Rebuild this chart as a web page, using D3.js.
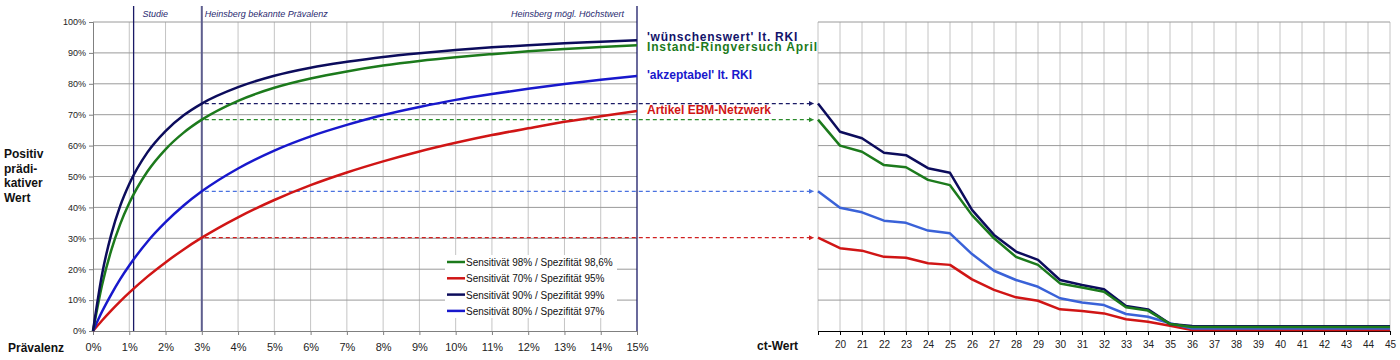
<!DOCTYPE html>
<html>
<head>
<meta charset="utf-8">
<script src="https://cdn.jsdelivr.net/npm/d3@7"></script>
<style>
  body { margin: 0; background: #fff; }
  svg { font-family: Arial, "Liberation Sans", sans-serif; }
</style>
</head>
<body>
<div id="chart"></div>
<script>
// ---- data ----
const prevalence = [0, 0.25, 0.5, 0.75, 1, 1.5, 2, 2.5, 3, 4, 5, 6, 7, 8, 9, 10, 11, 12, 13, 14, 15];
const ppvNavy  = [0, 18.4, 31.1, 40.5, 47.6, 57.8, 64.7, 69.8, 73.6, 78.9, 82.6, 85.2, 87.1, 88.7, 89.9, 90.9, 91.8, 92.5, 93.1, 93.6, 94.1];
const ppvGreen = [0, 14.9, 26.0, 34.6, 41.4, 51.6, 58.8, 64.2, 68.4, 74.5, 78.7, 81.7, 84.0, 85.9, 87.4, 88.6, 89.6, 90.5, 91.3, 91.9, 92.5];
const ppvBlue  = [0, 6.3, 11.8, 16.8, 21.2, 28.9, 35.2, 40.6, 45.2, 52.6, 58.4, 63.0, 66.7, 69.9, 72.5, 74.8, 76.7, 78.4, 79.9, 81.3, 82.5];
const ppvRed   = [0, 3.4, 6.6, 9.6, 12.4, 17.6, 22.2, 26.4, 30.2, 36.8, 42.4, 47.2, 51.3, 54.9, 58.1, 60.9, 63.4, 65.6, 67.7, 69.5, 71.2];

const ctValues = [19, 20, 21, 22, 23, 24, 25, 26, 27, 28, 29, 30, 31, 32, 33, 34, 35, 36, 37, 38, 39, 40, 41, 42, 43, 44, 45];
const ctNavy  = [73.6, 64.5, 62.4, 57.7, 56.9, 52.7, 51.2, 39.2, 31.1, 25.7, 23.0, 16.5, 14.9, 13.5, 8.1, 7.0, 2.3, 1.6, 1.5, 1.5, 1.5, 1.5, 1.5, 1.5, 1.5, 1.5, 1.5];
const ctGreen = [68.4, 60.0, 58.0, 53.7, 53.0, 48.9, 47.2, 37.5, 30.0, 24.0, 21.4, 15.4, 14.1, 12.7, 7.7, 6.6, 2.3, 1.3, 1.3, 1.3, 1.3, 1.3, 1.3, 1.3, 1.3, 1.3, 1.3];
const ctBlue  = [45.2, 39.9, 38.4, 35.7, 35.0, 32.5, 31.6, 24.9, 19.5, 16.5, 14.3, 10.6, 9.2, 8.4, 5.5, 4.6, 2.5, 0.8, 0.8, 0.8, 0.8, 0.8, 0.8, 0.8, 0.8, 0.8, 0.8];
const ctRed   = [30.2, 26.8, 26.0, 24.0, 23.7, 21.9, 21.4, 16.7, 13.3, 10.9, 9.8, 7.0, 6.5, 5.7, 3.8, 3.0, 1.7, 0.3, 0.3, 0.3, 0.3, 0.3, 0.3, 0.3, 0.3, 0.3, 0.3];

const markers = [
  {x: 1.12, label: "Studie"},
  {x: 3, label: "Heinsberg bekannte Prävalenz"},
  {x: 15, label: "Heinsberg mögl. Höchstwert"}
];

const legendItems = [
  {label: "Sensitivät 98% / Spezifität 98,6%", color: "#1c7a1c"},
  {label: "Sensitivät 70% / Spezifität 95%", color: "#d01515"},
  {label: "Sensitivät 90% / Spezifität 99%", color: "#0c0c5c"},
  {label: "Sensitivät 80% / Spezifität 97%", color: "#1818cc"}
];

const sideLabels = [
  {text: "'wünschenswert' lt. RKI", y: 95.1, color: "#12126a"},
  {text: "Instand-Ringversuch April", y: 91.9, color: "#1c7a1c"},
  {text: "'akzeptabel' lt. RKI", y: 82.8, color: "#1818cc"},
  {text: "Artikel EBM-Netzwerk", y: 71.5, color: "#d01515"}
];
const sideSpacing = [0.75, 0.85, 0, 0];

const colors = {navy: "#0c0c5c", green: "#1c7a1c", blue: "#1818cc", red: "#d01515", lightBlue: "#3a62d8"};

// ---- layout ----
const svg = d3.select("#chart").append("svg")
  .attr("width", 1400)
  .attr("height", 360);

const plotTop = 22, plotBottom = 331;
const y = d3.scaleLinear().domain([0, 100]).range([plotBottom, plotTop]);
const xL = d3.scaleLinear().domain([0, 15]).range([93, 637]);
const xR = d3.scaleLinear().domain([19, 45]).range([818, 1390]);

// ---- left chart grid ----
const gL = svg.append("g");
gL.selectAll("line.vg")
  .data(d3.range(1, 15))
  .enter().append("line")
  .attr("x1", d => xL(d)).attr("x2", d => xL(d))
  .attr("y1", plotTop).attr("y2", plotBottom)
  .attr("stroke", "#c4c4c4").attr("stroke-width", 1);
gL.selectAll("line.hg")
  .data(d3.range(10, 101, 10))
  .enter().append("line")
  .attr("x1", xL(0)).attr("x2", xL(15))
  .attr("y1", d => y(d)).attr("y2", d => y(d))
  .attr("stroke", "#9a9a9a").attr("stroke-width", 1);

// axes
const yAxis = d3.axisLeft(y).tickValues(d3.range(0, 101, 10)).tickFormat(d => d + "%").tickSize(4).tickPadding(3);
gL.append("g").attr("transform", "translate(" + xL(0) + ",0)").call(yAxis)
  .call(g => g.select(".domain").attr("stroke", "#808080"))
  .call(g => g.selectAll(".tick line").attr("stroke", "#808080"))
  .call(g => g.selectAll("text").attr("font-size", 9).attr("fill", "#222").attr("font-family", "Arial"));

const xAxisL = d3.axisBottom(xL).tickValues(d3.range(0, 16)).tickFormat(d => d + "%").tickSize(4).tickPadding(8);
gL.append("g").attr("transform", "translate(0," + plotBottom + ")").call(xAxisL)
  .call(g => g.select(".domain").attr("stroke", "#808080"))
  .call(g => g.selectAll(".tick line").attr("stroke", "#808080"))
  .call(g => g.selectAll("text").attr("font-size", 11).attr("fill", "#222").attr("font-family", "Arial"));

// marker lines
svg.selectAll("line.marker")
  .data(markers)
  .enter().append("line")
  .attr("x1", d => xL(d.x)).attr("x2", d => xL(d.x))
  .attr("y1", 6).attr("y2", plotBottom)
  .attr("stroke", (d, i) => i === 1 ? "#5e5e8e" : "#1a1a66")
  .attr("stroke-width", (d, i) => i === 1 ? 2 : 1.3);

svg.selectAll("text.marker")
  .data(markers)
  .enter().append("text")
  .attr("x", (d, i) => i === 2 ? xL(d.x) - 13 : xL(d.x) + (i === 0 ? 9 : 3))
  .attr("y", 17)
  .attr("text-anchor", (d, i) => i === 2 ? "end" : "start")
  .attr("font-size", 9).attr("font-style", "italic")
  .attr("fill", "#2a2a70")
  .text(d => d.label);

// dashed reference lines with arrows
const defs = svg.append("defs");
const dashData = [
  {v: ppvNavy[prevalence.indexOf(3)], color: "#1a1a66"},
  {v: ppvGreen[prevalence.indexOf(3)], color: "#2a8a2a"},
  {v: ppvBlue[prevalence.indexOf(3)], color: "#4a72e0"},
  {v: ppvRed[prevalence.indexOf(3)], color: "#d02020"}
];
dashData.forEach((d, i) => {
  defs.append("marker")
    .attr("id", "arr" + i)
    .attr("viewBox", "0 0 10 10")
    .attr("refX", 10).attr("refY", 5)
    .attr("markerWidth", 5).attr("markerHeight", 5)
    .attr("markerUnits", "userSpaceOnUse")
    .attr("orient", "auto")
    .append("path").attr("d", "M0,0L10,5L0,10Z").attr("fill", d.color);
});
svg.selectAll("line.dash")
  .data(dashData)
  .enter().append("line")
  .attr("x1", xL(3) + 3).attr("x2", xR(19) - 4)
  .attr("y1", d => y(d.v)).attr("y2", d => y(d.v))
  .attr("stroke", d => d.color).attr("stroke-width", 1.3)
  .attr("stroke-dasharray", "4,3")
  .attr("marker-end", (d, i) => "url(#arr" + i + ")");

// PPV curves
const lineL = d3.line()
  .x((d, i) => xL(prevalence[i]))
  .y(d => y(d))
  .curve(d3.curveMonotoneX);

[[ppvRed, colors.red], [ppvBlue, colors.blue], [ppvGreen, colors.green], [ppvNavy, colors.navy]].forEach(s => {
  svg.append("path")
    .datum(s[0])
    .attr("d", lineL)
    .attr("fill", "none")
    .attr("stroke", s[1])
    .attr("stroke-width", 2.5);
});

// legend
const lg = svg.append("g").attr("transform", "translate(445,255)");
lg.append("rect").attr("width", 172).attr("height", 63).attr("fill", "#fff");
lg.selectAll("g.item")
  .data(legendItems)
  .enter().append("g")
  .attr("transform", (d, i) => "translate(0," + (7 + i * 16.3) + ")")
  .each(function(d) {
    const g = d3.select(this);
    g.append("line").attr("x1", 2).attr("x2", 20).attr("stroke", d.color).attr("stroke-width", 2.5);
    g.append("text").attr("x", 21).attr("y", 4).attr("font-size", 10).attr("fill", "#111").text(d.label);
  });

// side labels
svg.selectAll("text.side")
  .data(sideLabels)
  .enter().append("text")
  .attr("x", 647)
  .attr("y", d => y(d.y) + 4)
  .attr("font-size", 12).attr("font-weight", "bold")
  .attr("letter-spacing", (d, i) => sideSpacing[i])
  .attr("fill", d => d.color)
  .text(d => d.text);

// y title and x title
svg.append("text")
  .attr("x", 4).attr("y", 158)
  .attr("font-size", 12).attr("font-weight", "bold").attr("fill", "#111")
  .selectAll("tspan")
  .data(["Positiv", "prädi-", "kativer", "Wert"])
  .enter().append("tspan")
  .attr("x", 4).attr("dy", (d, i) => i === 0 ? 0 : 14.5)
  .text(d => d);

svg.append("text").attr("x", 8).attr("y", 352)
  .attr("font-size", 12).attr("font-weight", "bold").attr("fill", "#111").text("Prävalenz");
svg.append("text").attr("x", 757).attr("y", 350)
  .attr("font-size", 12).attr("font-weight", "bold").attr("fill", "#111").text("ct-Wert");

// ---- right chart ----
const gR = svg.append("g");
gR.selectAll("line.vg")
  .data(ctValues)
  .enter().append("line")
  .attr("x1", d => xR(d)).attr("x2", d => xR(d))
  .attr("y1", plotTop).attr("y2", plotBottom)
  .attr("stroke", "#c4c4c4").attr("stroke-width", 1);
gR.selectAll("line.hg")
  .data(d3.range(10, 101, 10))
  .enter().append("line")
  .attr("x1", xR(19)).attr("x2", xR(45))
  .attr("y1", d => y(d)).attr("y2", d => y(d))
  .attr("stroke", "#9a9a9a").attr("stroke-width", 1);

const xAxisR = d3.axisBottom(xR).tickValues(ctValues).tickFormat(d => d === 19 ? "" : d).tickSize(4).tickPadding(6);
gR.append("g").attr("transform", "translate(0," + plotBottom + ")").call(xAxisR)
  .call(g => g.select(".domain").attr("stroke", "#000"))
  .call(g => g.selectAll(".tick line").attr("stroke", "#000"))
  .call(g => g.selectAll("text").attr("font-size", 10).attr("fill", "#222").attr("font-family", "Arial"));

const lineR = d3.line()
  .x((d, i) => xR(ctValues[i]))
  .y(d => y(d));

[[ctRed, colors.red], [ctBlue, colors.lightBlue], [ctNavy, colors.navy], [ctGreen, colors.green]].forEach(s => {
  svg.append("path")
    .datum(s[0])
    .attr("d", lineR)
    .attr("fill", "none")
    .attr("stroke", s[1])
    .attr("stroke-width", 2.5)
    .attr("stroke-linejoin", "round");
});
</script>
</body>
</html>
